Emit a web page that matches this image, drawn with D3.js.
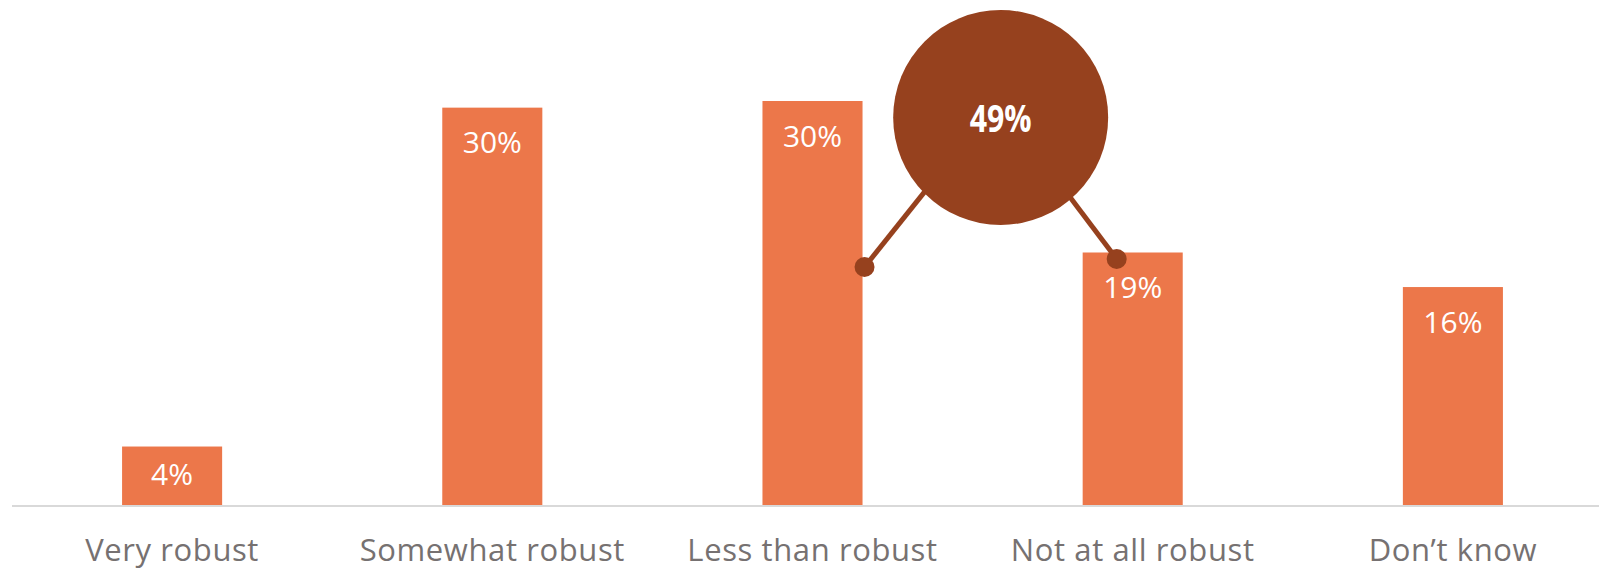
<!DOCTYPE html>
<html>
<head>
<meta charset="utf-8">
<script src="https://cdn.jsdelivr.net/npm/d3@7"></script>
<style>
  html, body { margin: 0; padding: 0; background: #fff; }
  svg { display: block; }
</style>
</head>
<body>
<svg id="chart" width="1599" height="568"></svg>
<script>
// Survey responses: how robust is it?
const categories = ["Very robust", "Somewhat robust", "Less than robust", "Not at all robust", "Don\u2019t know"];
const values = [4.4, 29.9, 30.4, 19.0, 16.4];
// Combined share of the two negative answers
const highlighted = ["Less than robust", "Not at all robust"];

const W = 1599, H = 568;
const baseY = 505;
const svg = d3.select("#chart");

const x = d3.scaleBand().domain(categories).range([12, 1613]).paddingInner(0.6875).paddingOuter(0.34375);
const y = d3.scaleLinear().domain([0, 38]).range([baseY, 0]);

const data = categories.map((c, i) => ({ cat: c, v: values[i] }));
const pct = d3.format(".0f");

// Bars
svg.append("g").selectAll("rect").data(data).join("rect")
  .attr("x", d => x(d.cat))
  .attr("y", d => y(d.v))
  .attr("width", x.bandwidth())
  .attr("height", d => baseY - y(d.v))
  .attr("fill", "#ec774a");

// Baseline
svg.append("line")
  .attr("x1", 12).attr("x2", W)
  .attr("y1", baseY + 1).attr("y2", baseY + 1)
  .attr("stroke", "#d9d9d9").attr("stroke-width", 2);

// Value labels inside the bar tops
svg.append("g").selectAll("text").data(data).join("text")
  .attr("x", d => x(d.cat) + x.bandwidth() / 2)
  .attr("y", d => { const h = baseY - y(d.v); return y(d.v) + Math.min(45.5, h / 2 + 9); })
  .attr("text-anchor", "middle")
  .attr("font-family", "'Open Sans', sans-serif")
  .attr("font-size", 30)
  .attr("fill", "#ffffff")
  .text(d => pct(d.v) + "%");

// Category labels
svg.append("g").selectAll("text").data(data).join("text")
  .attr("x", d => x(d.cat) + x.bandwidth() / 2)
  .attr("y", 561)
  .attr("text-anchor", "middle")
  .attr("font-family", "'Open Sans', sans-serif")
  .attr("font-size", 31)
  .attr("letter-spacing", 0.6)
  .attr("fill", "#767171")
  .text(d => d.cat);

// Callout bubble summing the highlighted answers
const total = d3.sum(data.filter(d => highlighted.includes(d.cat)), d => d.v);
const cx = x(highlighted[1]) - 82;
const cy = 117.5, r = 107.5;
const dark = "#96411e";

// Leader dots, and the angle at which each leader meets the bubble
const leaders = [
  { x: x(highlighted[0]) + x.bandwidth() + 2, y: 267, angle: 135.6 },
  { x: x(highlighted[1]) + 34, y: 259, angle: 49 }
];

const callout = svg.append("g");
leaders.forEach(p => {
  const a = p.angle * Math.PI / 180;
  const ex = cx + r * Math.cos(a), ey = cy + r * Math.sin(a);
  const dx = ex - p.x, dy = ey - p.y, len = Math.hypot(dx, dy);
  callout.append("line")
    .attr("x1", p.x).attr("y1", p.y)
    .attr("x2", ex + dx / len * 20).attr("y2", ey + dy / len * 20)
    .attr("stroke", dark).attr("stroke-width", 5);
  callout.append("circle")
    .attr("cx", p.x).attr("cy", p.y).attr("r", 10)
    .attr("fill", dark);
});
callout.append("circle")
  .attr("cx", cx).attr("cy", cy).attr("r", r)
  .attr("fill", dark);
callout.append("text")
  .attr("x", cx).attr("y", 132)
  .attr("text-anchor", "middle")
  .attr("font-family", "'Open Sans', sans-serif")
  .attr("font-weight", "bold")
  .attr("font-size", 37)
  .attr("textLength", 62)
  .attr("lengthAdjust", "spacingAndGlyphs")
  .attr("fill", "#ffffff")
  .text(pct(total) + "%");
</script>
</body>
</html>
